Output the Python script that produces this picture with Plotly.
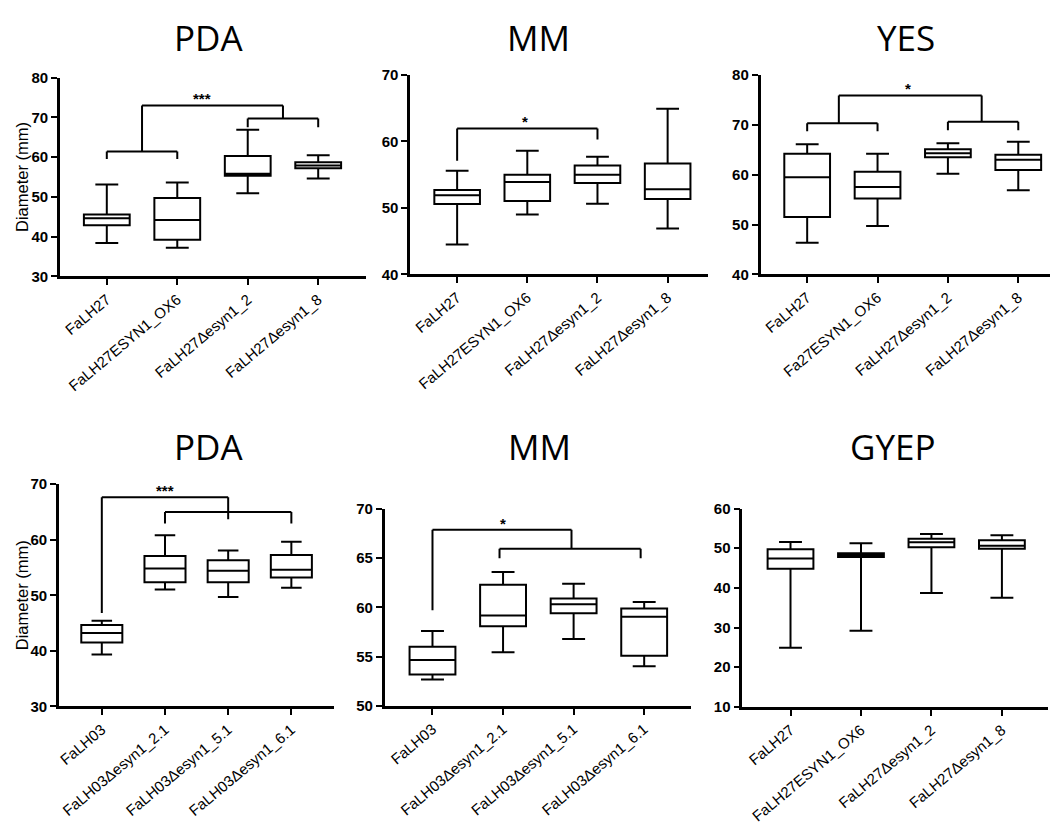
import plotly.graph_objects as go

W, H = 1057, 834

# ---------------- data ----------------
labels_27 = ["FaLH27", "FaLH27ESYN1_OX6", "FaLH27\u0394esyn1_2", "FaLH27\u0394esyn1_8"]
labels_27_yes = ["FaLH27", "Fa27ESYN1_OX6", "FaLH27\u0394esyn1_2", "FaLH27\u0394esyn1_8"]
labels_03 = ["FaLH03", "FaLH03\u0394esyn1_2.1", "FaLH03\u0394esyn1_5.1", "FaLH03\u0394esyn1_6.1"]

pda27_min = [38.4, 37.2, 50.9, 54.6]
pda27_q1 = [42.9, 39.2, 55.3, 57.2]
pda27_med = [44.6, 44.2, 55.8, 57.9]
pda27_q3 = [45.6, 49.7, 60.3, 58.7]
pda27_max = [53.1, 53.6, 66.9, 60.5]

mm27_min = [44.5, 49.0, 50.65, 46.9]
mm27_q1 = [50.6, 51.05, 53.75, 51.35]
mm27_med = [51.9, 53.9, 55.0, 52.8]
mm27_q3 = [52.7, 55.0, 56.4, 56.7]
mm27_max = [55.6, 58.6, 57.7, 64.9]

yes27_min = [46.35, 49.7, 60.2, 56.9]
yes27_q1 = [51.5, 55.25, 63.5, 60.95]
yes27_med = [59.5, 57.55, 64.3, 63.0]
yes27_q3 = [64.2, 60.6, 65.1, 64.0]
yes27_max = [66.1, 64.2, 66.3, 66.6]

pda03_min = [39.35, 51.05, 49.7, 51.35]
pda03_q1 = [41.5, 52.35, 52.35, 53.2]
pda03_med = [43.2, 54.8, 54.4, 54.6]
pda03_q3 = [44.65, 57.05, 56.3, 57.25]
pda03_max = [45.4, 60.8, 58.05, 59.65]

mm03_min = [52.68, 55.44, 56.8, 54.03]
mm03_q1 = [53.19, 58.08, 59.4, 55.1]
mm03_med = [54.66, 59.17, 60.3, 59.04]
mm03_q3 = [56.0, 62.28, 60.9, 59.87]
mm03_max = [57.6, 63.58, 62.38, 60.53]

gyep27_min = [24.9, 29.2, 38.7, 37.5]
gyep27_q1 = [44.8, 47.8, 50.25, 49.85]
gyep27_med = [47.4, 48.3, 51.5, 50.6]
gyep27_q3 = [49.75, 48.75, 52.4, 52.0]
gyep27_max = [51.6, 51.25, 53.6, 53.3]

pda27_yticks = [30, 40, 50, 60, 70, 80]
mm27_yticks = [40, 50, 60, 70]
yes27_yticks = [40, 50, 60, 70, 80]
pda03_yticks = [30, 40, 50, 60, 70]
mm03_yticks = [50, 55, 60, 65, 70]
gyep27_yticks = [10, 20, 30, 40, 50, 60]

titles = ["PDA", "MM", "YES", "PDA", "MM", "GYEP"]

# significance brackets: (x0, y0, x1, y1) segments in data units
pda27_brackets = [(0, 59.5, 0, 61.4), (0, 61.4, 1, 61.4), (1, 61.4, 1, 59.5),
                  (0.5, 61.4, 0.5, 73.0), (0.5, 73.0, 2.5, 73.0), (2.5, 73.0, 2.5, 69.7),
                  (2, 67.5, 2, 69.7), (2, 69.7, 3, 69.7), (3, 69.7, 3, 67.5)]
pda27_star = (1.35, 73.0, "***")
mm27_brackets = [(0, 57.1, 0, 61.95), (0, 61.95, 2, 61.95), (2, 61.95, 2, 60.3)]
mm27_star = (0.97, 61.95, "*")
yes27_brackets = [(0, 68.7, 0, 70.3), (0, 70.3, 1, 70.3), (1, 70.3, 1, 68.7),
                  (0.45, 70.3, 0.45, 75.9), (0.45, 75.9, 2.48, 75.9), (2.48, 75.9, 2.48, 70.6),
                  (2, 68.9, 2, 70.6), (2, 70.6, 3, 70.6), (3, 70.6, 3, 68.9)]
yes27_star = (1.43, 75.9, "*")
pda03_brackets = [(0, 46.8, 0, 67.65), (0, 67.65, 2, 67.65), (2, 67.65, 2, 63.7),
                  (1, 62.9, 1, 65.0), (1, 65.0, 3, 65.0), (3, 65.0, 3, 62.9)]
pda03_star = (1.0, 67.65, "***")
mm03_brackets = [(0, 59.7, 0, 67.85), (0, 67.85, 1.97, 67.85), (1.97, 67.85, 1.97, 65.93),
                 (0.95, 64.97, 0.95, 65.93), (0.95, 65.93, 2.95, 65.93), (2.95, 65.93, 2.95, 64.97)]
mm03_star = (1.0, 67.85, "*")

panels = [
    dict(labels=labels_27, stats=(pda27_min, pda27_q1, pda27_med, pda27_q3, pda27_max),
         yr=[30, 80], yt=pda27_yticks, br=pda27_brackets, star=pda27_star,
         px=(58, 365), py=(70, 273), cat0=105, sp=70.6, ytitle=True),
    dict(labels=labels_27, stats=(mm27_min, mm27_q1, mm27_med, mm27_q3, mm27_max),
         yr=[40, 70], yt=mm27_yticks, br=mm27_brackets, star=mm27_star,
         px=(409, 707), py=(67.3, 271), cat0=456, sp=70.3, ytitle=False),
    dict(labels=labels_27_yes, stats=(yes27_min, yes27_q1, yes27_med, yes27_q3, yes27_max),
         yr=[40, 80], yt=yes27_yticks, br=yes27_brackets, star=yes27_star,
         px=(760, 1050), py=(67.3, 271), cat0=806.7, sp=70.5, ytitle=False),
    dict(labels=labels_03, stats=(pda03_min, pda03_q1, pda03_med, pda03_q3, pda03_max),
         yr=[30, 70], yt=pda03_yticks, br=pda03_brackets, star=pda03_star,
         px=(57, 333), py=(485, 712), cat0=100, sp=63.3, ytitle=True),
    dict(labels=labels_03, stats=(mm03_min, mm03_q1, mm03_med, mm03_q3, mm03_max),
         yr=[50, 70], yt=mm03_yticks, br=mm03_brackets, star=mm03_star,
         px=(383.3, 690.7), py=(510, 711.5), cat0=431.3, sp=70.7, ytitle=False),
    dict(labels=labels_27, stats=(gyep27_min, gyep27_q1, gyep27_med, gyep27_q3, gyep27_max),
         yr=[10, 60], yt=gyep27_yticks, br=[], star=None,
         px=(741.7, 1048), py=(510, 712.3), cat0=790, sp=70.6, ytitle=False),
]

title_pos = [(207, 29), (538, 29), (906, 29), (207, 447), (539, 447), (893, 447)]

fig = go.Figure()
layout = dict(width=W, height=H, margin=dict(l=0, r=0, t=0, b=0),
              paper_bgcolor="white", plot_bgcolor="white", showlegend=False)
shapes = []
annotations = []

for i, p in enumerate(panels):
    n = "" if i == 0 else str(i + 1)
    xa, ya = "x" + n, "y" + n
    mn, q1, md, q3, mx = p["stats"]
    fig.add_trace(go.Box(
        x=list(range(len(p["labels"]))), q1=q1, median=md, q3=q3,
        lowerfence=mn, upperfence=mx, xaxis=xa, yaxis=ya,
        width=0.65, whiskerwidth=0.5, boxpoints=False,
        fillcolor="white", line=dict(color="black", width=2),
    ))
    x0, x1 = p["px"]
    y0, y1 = p["py"]
    rng = [(x0 - p["cat0"]) / p["sp"], (x1 - p["cat0"]) / p["sp"]]
    layout["xaxis" + n] = dict(
        domain=[x0 / W, x1 / W], anchor=ya, range=rng,
        tickmode="array", tickvals=list(range(len(p["labels"]))), ticktext=p["labels"],
        tickangle=-40, ticks="outside", ticklen=6, tickwidth=2, tickcolor="black",
        showline=True, linecolor="black", linewidth=2.5, showgrid=False, zeroline=False,
        tickfont=dict(family="Liberation Sans, Arial", size=15, color="black"),
    )
    layout["yaxis" + n] = dict(
        domain=[1 - y1 / H, 1 - y0 / H], anchor=xa, range=p["yr"],
        tickmode="array", tickvals=p["yt"], ticktext=["<b>%d</b>" % v for v in p["yt"]],
        ticks="outside", ticklen=6, tickwidth=2, tickcolor="black",
        showline=True, linecolor="black", linewidth=2.5, showgrid=False, zeroline=False,
        tickfont=dict(family="Liberation Sans, Arial", size=15, color="black"),
    )
    for (a, b, c, d) in p["br"]:
        shapes.append(dict(type="line", xref=xa, yref=ya, x0=a, y0=b, x1=c, y1=d,
                           line=dict(color="black", width=2)))
    if p["star"]:
        sx, sy, st = p["star"]
        annotations.append(dict(x=sx, y=sy, xref=xa, yref=ya, text="<b>%s</b>" % st, showarrow=False,
                                yanchor="bottom", yshift=-4,
                                font=dict(family="Liberation Sans, Arial", size=15, color="black")))
    tx, ty = title_pos[i]
    annotations.append(dict(x=tx / W, y=1 - ty / H, xref="paper", yref="paper", text=titles[i],
                            showarrow=False, xanchor="center", yanchor="middle",
                            font=dict(family="Open Sans", size=35, color="black")))
    if p["ytitle"]:
        annotations.append(dict(x=20 / W, y=1 - (y0 + y1) / 2 / H, xref="paper", yref="paper",
                                text="Diameter (mm)", textangle=-90, showarrow=False,
                                xanchor="center", yanchor="middle",
                                font=dict(family="Liberation Sans, Arial", size=16.5, color="black")))

layout["shapes"] = shapes
layout["annotations"] = annotations
fig.update_layout(**layout)
fig.write_html("out.html")
